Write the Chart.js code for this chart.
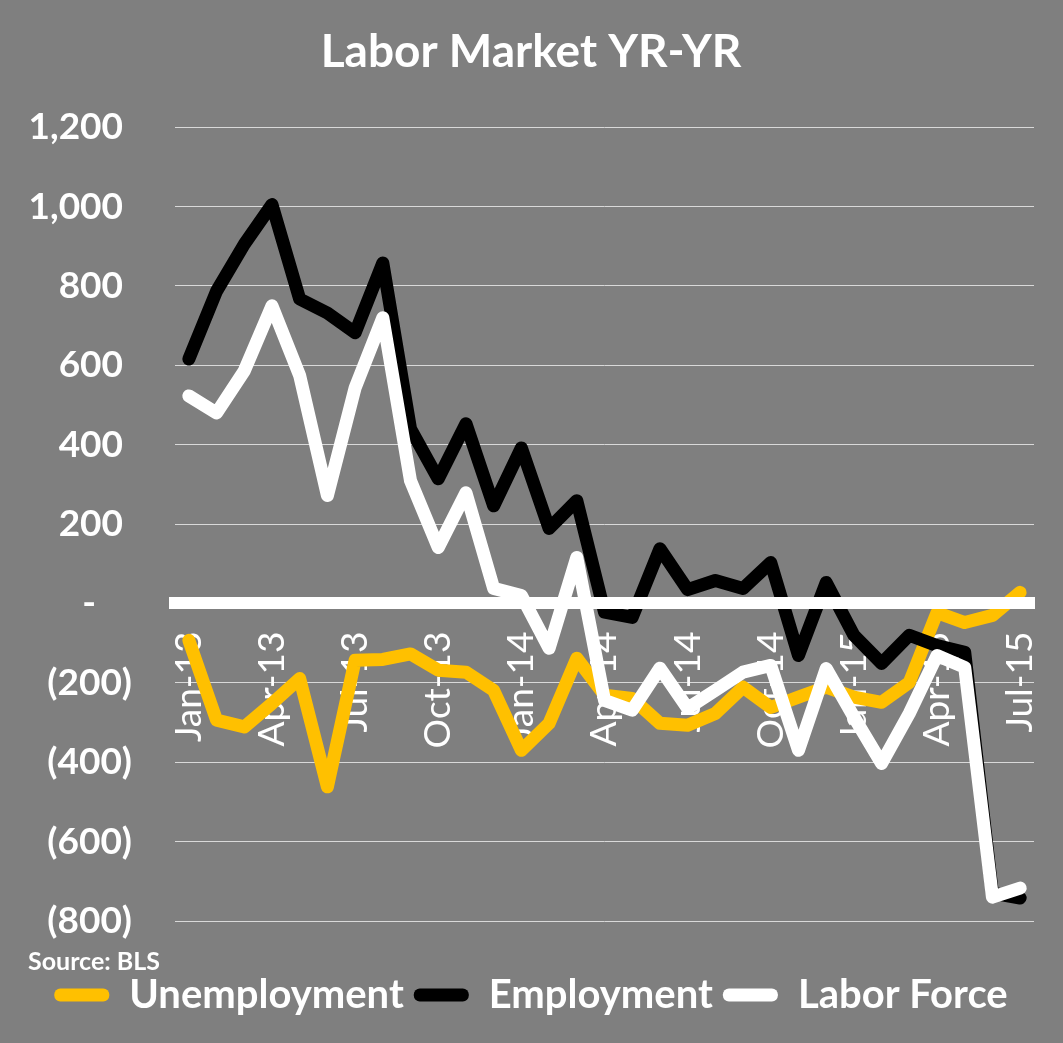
<!DOCTYPE html>
<html lang="en">
<head>
<meta charset="UTF-8">
<title>Labor Market YR-YR</title>
<style>
  html, body { margin: 0; padding: 0; background: #7f7f7f; }
  canvas { display: block; }
</style>
</head>
<body>

<canvas id="myChart" width="1063" height="1043"></canvas>

<script src="https://cdn.jsdelivr.net/npm/chart.js"></script>
<script>
// monthly, Jan-13 .. Jul-15, thousands, change vs same month a year earlier
var months = ['Jan-13','Feb-13','Mar-13','Apr-13','May-13','Jun-13','Jul-13','Aug-13','Sep-13','Oct-13','Nov-13','Dec-13',
              'Jan-14','Feb-14','Mar-14','Apr-14','May-14','Jun-14','Jul-14','Aug-14','Sep-14','Oct-14','Nov-14','Dec-14',
              'Jan-15','Feb-15','Mar-15','Apr-15','May-15','Jun-15','Jul-15'];
var shownTicks = ['Jan-13','Apr-13','Jul-13','Oct-13','Jan-14','Apr-14','Jul-14','Oct-14','Jan-15','Apr-15','Jul-15'];

var unemployment = [-93,-294,-311,-252,-189,-462,-143,-141,-127,-168,-173,-219,
                    -370,-302,-138,-231,-239,-302,-307,-277,-211,-262,-236,-211,
                    -236,-249,-199,-23,-48,-30,28];
var employment = [616,787,905,1005,767,732,682,858,440,314,453,246,
                  392,189,259,-22,-35,138,35,58,38,103,-131,53,
                  -80,-151,-80,-106,-123,-730,-742];
var laborForce = [523,480,586,750,574,272,543,720,309,141,279,38,
                  20,-113,116,-244,-269,-163,-264,-219,-173,-156,-370,-164,
                  -286,-403,-277,-131,-161,-740,-717];

Chart.defaults.font.family = 'Lato';
Chart.defaults.color = '#fff';

function yLabel(v) {
    if (v === 0) return '-    ';
    if (v < 0) return '(' + Math.abs(v).toLocaleString('en-US') + ')';
    return v.toLocaleString('en-US') + ' ';
}

var ctx = document.getElementById('myChart').getContext('2d');
var chart = new Chart(ctx, {
    type: 'line',
    data: {
        labels: months,
        datasets: [
            { label: 'Unemployment', data: unemployment, borderColor: '#ffc000', backgroundColor: '#ffc000', order: 2 },
            { label: 'Employment', data: employment, borderColor: '#000000', backgroundColor: '#000000', order: 1 },
            { label: 'Labor Force', data: laborForce, borderColor: '#ffffff', backgroundColor: '#ffffff', order: 0 }
        ]
    },
    options: {
        responsive: false,
        animation: false,
        layout: { padding: { left: 28, right: 29, top: 0, bottom: 18 } },
        elements: {
            line: { borderWidth: 13, tension: 0, fill: false, borderJoinStyle: 'round', borderCapStyle: 'round' },
            point: { radius: 0, hoverRadius: 0 }
        },
        scales: {
            x: {
                position: { y: 0 },
                offset: true,
                grid: { display: false, drawTicks: false },
                border: { display: true, color: '#ffffff', width: 12, z: 1 },
                ticks: {
                    autoSkip: false, minRotation: 90, maxRotation: 90, padding: 28,
                    font: { size: 37 },
                    callback: function(v) {
                        var l = this.getLabelForValue(v);
                        return shownTicks.indexOf(l) >= 0 ? l : '';
                    }
                },
                afterFit: function(s) { s.paddingLeft = 0; s.paddingRight = 0; }
            },
            y: {
                min: -800, max: 1200,
                grid: { color: '#d9d9d9', lineWidth: 1, drawTicks: false },
                border: { display: false },
                ticks: { stepSize: 200, padding: 43, font: { size: 37, weight: 'bold' }, callback: yLabel },
                afterFit: function(s) { s.width = 147; }
            }
        },
        plugins: {
            title: {
                display: true, text: 'Labor Market YR-YR',
                font: { size: 46, weight: 'bold' },
                padding: { top: 25, bottom: 47 }
            },
            subtitle: {
                display: true, position: 'bottom', align: 'start', text: 'Source: BLS',
                font: { size: 25, weight: 'bold' },
                padding: { top: 26, bottom: -12 }
            },
            legend: {
                position: 'bottom', weight: 2500,
                labels: {
                    font: { size: 40, weight: 'bold' },
                    boxWidth: 55, boxHeight: 13, padding: 10,
                    useBorderRadius: true, borderRadius: 6,
                    sort: function(a, b) { return a.datasetIndex - b.datasetIndex; },
                    generateLabels: function(c) {
                        return Chart.defaults.plugins.legend.labels.generateLabels(c).map(function(l) {
                            l.lineWidth = 0;
                            l.fillStyle = l.strokeStyle;
                            return l;
                        });
                    }
                }
            },
            tooltip: { enabled: false }
        }
    }
});
</script>
</body>
</html>
